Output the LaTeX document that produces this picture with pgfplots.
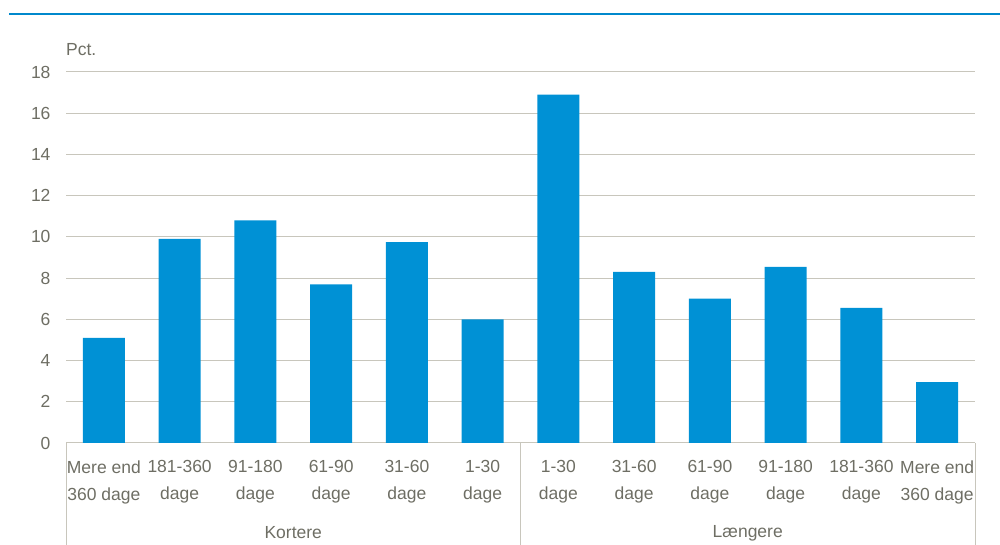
\documentclass[border=0pt]{standalone}
\usepackage{fontspec}
\setmainfont{Liberation Sans}
\usepackage{pgfplots}
\pgfplotsset{compat=1.18}
\definecolor{barblue}{RGB}{0,145,213}
\definecolor{topblue}{RGB}{0,136,204}
\definecolor{txtgrey}{RGB}{110,110,100}
\definecolor{gridgrey}{RGB}{200,198,188}
\begin{document}
\begin{tikzpicture}[x=1pt,y=1pt]
\useasboundingbox (0,0) rectangle (1000,545);
\draw[topblue, line width=2.5pt] (9,531) -- (1000,531);
\begin{axis}[
  at={(66pt,102pt)}, anchor=south west,
  scale only axis, width=909pt, height=371pt,
  xmin=-0.5, xmax=11.5, ymin=0, ymax=18,
  ytick={0,2,...,18},
  xtick={0,...,11},
  xticklabels={{Mere end\\360 dage},{181-360\\dage},{91-180\\dage},{61-90\\dage},{31-60\\dage},{1-30\\dage},{1-30\\dage},{31-60\\dage},{61-90\\dage},{91-180\\dage},{181-360\\dage},{Mere end\\360 dage}},
  major tick length=0pt,
  axis x line*=bottom, axis y line*=left,
  x axis line style={gridgrey, line width=1pt},
  y axis line style={draw=none},
  ymajorgrids, grid style={gridgrey, line width=1pt},
  tick label style={font=\fontsize{17.5}{27}\selectfont, text=txtgrey},
  xticklabel style={align=center, yshift=-14pt},
  yticklabel style={xshift=-12pt},
  /pgf/number format/assume math mode=true,
  clip=false,
]
\addplot[ybar, bar width=42pt, bar shift=0pt, fill=barblue, draw=none] coordinates {
(0,5.1) (1,9.9) (2,10.8) (3,7.7) (4,9.75) (5,6.0) (6,16.9) (7,8.3) (8,7.0) (9,8.55) (10,6.55) (11,2.95)};
\node[anchor=south west, text=txtgrey, font=\fontsize{17.5}{20}\selectfont, inner sep=0pt] at ([yshift=16pt]rel axis cs:0,1) {Pct.};
\draw[gridgrey, line width=1pt] (axis cs:-0.5,0) -- ([yshift=-102pt]axis cs:-0.5,0);
\draw[gridgrey, line width=1pt] (axis cs:5.5,0) -- ([yshift=-102pt]axis cs:5.5,0);
\draw[gridgrey, line width=1pt] (axis cs:11.5,0) -- ([yshift=-102pt]axis cs:11.5,0);
\node[text=txtgrey, font=\fontsize{17.5}{20}\selectfont] at ([yshift=-90pt]axis cs:2.5,0) {Kortere};
\node[text=txtgrey, font=\fontsize{17.5}{20}\selectfont] at ([yshift=-90pt]axis cs:8.5,0) {Længere};
\end{axis}
\end{tikzpicture}
\end{document}
